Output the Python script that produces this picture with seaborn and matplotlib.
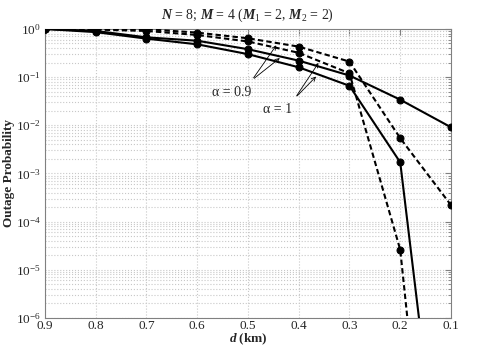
import numpy as np
import pandas as pd
import seaborn as sns
import matplotlib.pyplot as plt
from matplotlib.ticker import LogLocator, NullFormatter

# distances (km), plotted with a reversed axis
d_km = [0.9, 0.8, 0.7, 0.6, 0.5, 0.4, 0.3, 0.2, 0.1]

# outage probability
dash_a09 = [1.0, 1.0, 0.99, 0.84, 0.64, 0.43, 0.21, 5.4e-3, 2.2e-4]
dash_a1 = [1.0, 0.97, 0.91, 0.75, 0.55, 0.32, 0.12, 2.6e-5, 2.2e-15]
solid_a09 = [1.0, 0.91, 0.67, 0.57, 0.38, 0.22, 0.108, 0.034, 9.1e-3]
solid_a1 = [1.0, 0.86, 0.63, 0.48, 0.30, 0.16, 0.066, 1.7e-3, 3e-12]

series = {
    'dash_a09': (dash_a09, (2.6, 1.5)),
    'dash_a1': (dash_a1, (2.6, 1.5)),
    'solid_a09': (solid_a09, ''),
    'solid_a1': (solid_a1, ''),
}

sns.set_style('white')
plt.rcParams['font.family'] = ['Liberation Serif', 'DejaVu Serif']
plt.rcParams['mathtext.fontset'] = 'custom'
plt.rcParams['mathtext.rm'] = 'Liberation Serif'
plt.rcParams['mathtext.it'] = 'Liberation Serif:italic'
plt.rcParams['mathtext.bf'] = 'Liberation Serif:bold:italic'

fig = plt.figure(figsize=(4.78, 3.49), dpi=100)
ax = fig.add_axes([0.094, 0.089, 0.8495, 0.828])

rows = []
for name, (vals, _) in series.items():
    for d, p in zip(d_km, vals):
        rows.append({'d': d, 'p': p, 'series': name})
df = pd.DataFrame(rows)

for name, (vals, dash) in series.items():
    sub = df[df['series'] == name]
    sns.lineplot(data=sub, x='d', y='p', ax=ax, color='black', lw=1.5,
                 marker='o', markersize=5, markeredgecolor='black',
                 dashes=False, legend=False, zorder=3)
    if dash:
        ax.lines[-1].set_dashes(dash)

ax.set_yscale('log')
ax.set_xlim(0.9, 0.1)
ax.set_ylim(1e-6, 1)
ax.set_xticks(d_km)
ax.set_xticklabels([f'{v:.1f}' for v in d_km])
ax.yaxis.set_major_locator(LogLocator(base=10, numticks=10))
ax.yaxis.set_minor_locator(LogLocator(base=10, subs=np.arange(2, 10), numticks=10))
ax.yaxis.set_minor_formatter(NullFormatter())

ax.grid(True, which='major', axis='both', color='#c8c8c8', linestyle=':', lw=0.8)
ax.grid(True, which='minor', axis='y', color='#c8c8c8', linestyle=':', lw=0.8)
ax.tick_params(which='both', direction='in', top=True, right=True,
               labelsize=9.5, color='#808080')
ax.tick_params(which='major', length=4)
ax.tick_params(which='minor', length=2)
ax.tick_params(axis='x', pad=1.5)
ax.tick_params(axis='y', pad=3)
for sp in ax.spines.values():
    sp.set_color('#808080')
    sp.set_linewidth(0.8)

ax.set_title(r'$\mathbf{N}$ = 8; $\mathbf{M}$ = 4 ($\mathbf{M}_{1}$ = 2, $\mathbf{M}_{2}$ = 2)',
             fontsize=10, pad=7)
ax.set_xlabel(r'$\mathbf{d}$ (km)', fontsize=9.5, fontweight='bold', va='center')
ax.xaxis.set_label_coords(0.5, -0.073)
ax.set_ylabel('Outage Probability', fontsize=9.5, fontweight='bold', va='center')
ax.yaxis.set_label_coords(-0.088, 0.5)

# annotations
arrow = dict(arrowstyle='->', lw=0.6, color='black', mutation_scale=7)
ax.text(0.532, 0.049, 'α = 0.9', fontsize=10, ha='center', va='center')
for tx, ty in [(0.441, 0.51), (0.433, 0.27)]:
    ax.annotate('', xy=(tx, ty), xytext=(0.492, 0.087), arrowprops=arrow)
ax.text(0.441, 0.0209, 'α = 1', fontsize=10, ha='center', va='center')
for tx, ty in [(0.358, 0.22), (0.362, 0.113)]:
    ax.annotate('', xy=(tx, ty), xytext=(0.407, 0.037), arrowprops=arrow)

plt.savefig('out.png', dpi=100)
plt.close()
